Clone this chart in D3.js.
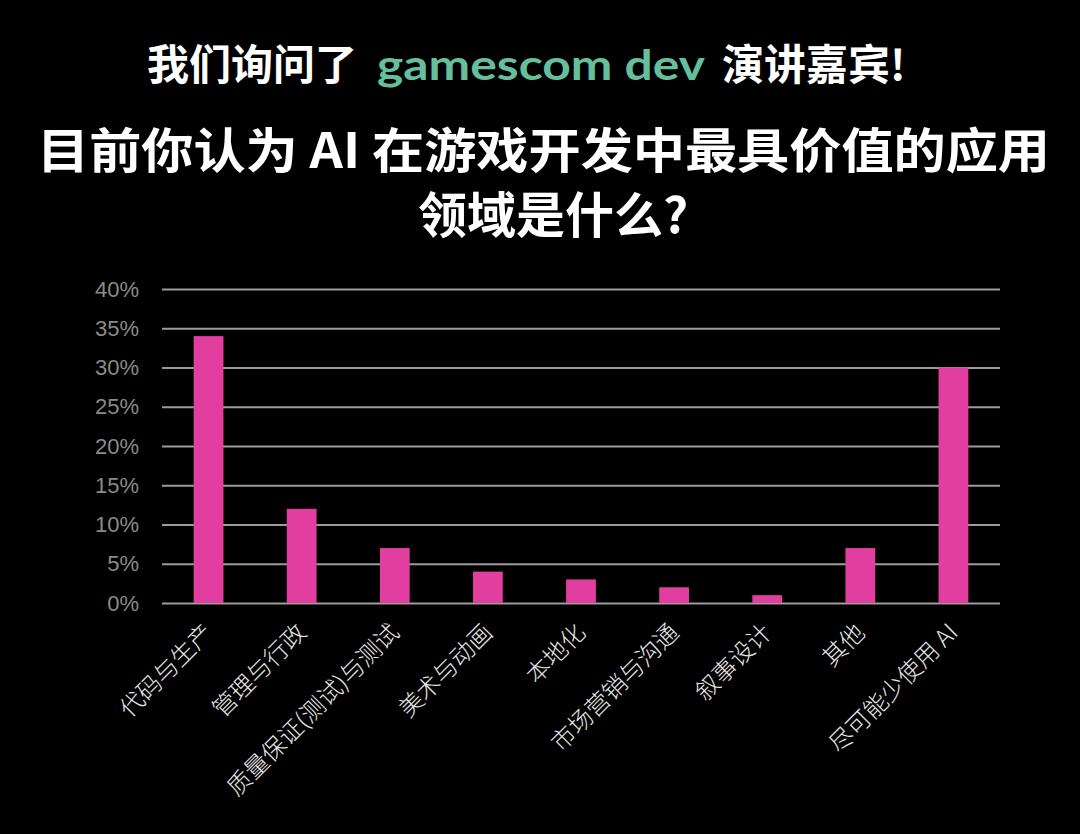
<!DOCTYPE html>
<html>
<head>
<meta charset="utf-8">
<script src="https://cdn.jsdelivr.net/npm/d3@7"></script>
<style>
    html, body { margin: 0; padding: 0; background: #000; }
    svg { display: block; }
    .title { font-family: "Noto Sans CJK SC", "Noto Sans", sans-serif; font-weight: 700; fill: #fff; }
    .y-axis text { font-family: "Liberation Sans", Arial, sans-serif; font-size: 22px; fill: #8a8a8a; }
    .y-axis line { stroke: #9c9c9c; stroke-width: 2; }
    .x-label { font-family: "Noto Sans CJK SC", sans-serif; font-weight: 300; font-size: 24px; fill: #e8e8e8; }
</style>
</head>
<body>
<div id="chart"></div>
<script>
// survey answers, share of speakers (%)
let categories = ["代码与生产", "管理与行政", "质量保证(测试)与测试", "美术与动画", "本地化",
                  "市场营销与沟通", "叙事设计", "其他", "尽可能少使用 AI"];
let values = [34, 12, 7, 4, 3, 2, 1, 7, 30];
let yTicks = [0, 5, 10, 15, 20, 25, 30, 35, 40];

let width = 1080, height = 834;
let margin = {top: 289, right: 80, bottom: 231, left: 162};
let innerW = width - margin.left - margin.right;
let innerH = height - margin.top - margin.bottom;

let svg = d3.select("#chart").append("svg")
    .attr("width", width)
    .attr("height", height);

svg.append("rect")
    .attr("width", width)
    .attr("height", height)
    .attr("fill", "#000");

// Titles
svg.append("text")
    .attr("class", "title")
    .attr("x", 147).attr("y", 80)
    .style("font-size", "42px")
    .text("我们询问了");

svg.append("text")
    .attr("class", "title")
    .attr("x", 377).attr("y", 80)
    .attr("textLength", 328)
    .attr("lengthAdjust", "spacingAndGlyphs")
    .style("font-family", "Lato, 'Open Sans', sans-serif")
    .style("font-size", "42px")
    .style("fill", "#66bf9c")
    .text("gamescom dev");

svg.append("text")
    .attr("class", "title")
    .attr("x", 722).attr("y", 80)
    .style("font-size", "42px")
    .text("演讲嘉宾!");

svg.append("text")
    .attr("class", "title")
    .attr("x", 37).attr("y", 168)
    .attr("textLength", 1013)
    .attr("lengthAdjust", "spacingAndGlyphs")
    .style("font-size", "48px")
    .text("目前你认为 AI 在游戏开发中最具价值的应用");

svg.append("text")
    .attr("class", "title")
    .attr("x", 553).attr("y", 233)
    .attr("text-anchor", "middle")
    .style("font-size", "49px")
    .text("领域是什么?");

let g = svg.append("g")
    .attr("transform", `translate(${margin.left},${margin.top})`);

// Scales
let x = d3.scaleBand()
    .domain(categories)
    .range([0, innerW])
    .paddingInner(0.68)
    .paddingOuter(0.34);

let y = d3.scaleLinear()
    .domain([0, 40])
    .range([innerH, 0]);

// y axis with gridlines
let yAxis = d3.axisLeft(y)
    .tickValues(yTicks)
    .tickFormat(d => d + "%")
    .tickSize(-innerW)
    .tickPadding(23);

g.append("g")
    .attr("class", "y-axis")
    .call(yAxis)
    .call(a => a.select(".domain").remove());

// bars
g.selectAll(".bar")
    .data(values)
    .enter()
    .append("rect")
    .attr("class", "bar")
    .attr("x", (d, i) => x(categories[i]))
    .attr("y", d => y(d))
    .attr("width", x.bandwidth())
    .attr("height", d => innerH - y(d))
    .attr("fill", "#e23ea0");

// rotated category labels
g.selectAll(".x-label")
    .data(categories)
    .enter()
    .append("text")
    .attr("class", "x-label")
    .attr("text-anchor", "end")
    .attr("transform", d => `translate(${x(d) + x.bandwidth() / 2 + 6},${innerH + 31}) rotate(-45)`)
    .text(d => d);
</script>
</body>
</html>
